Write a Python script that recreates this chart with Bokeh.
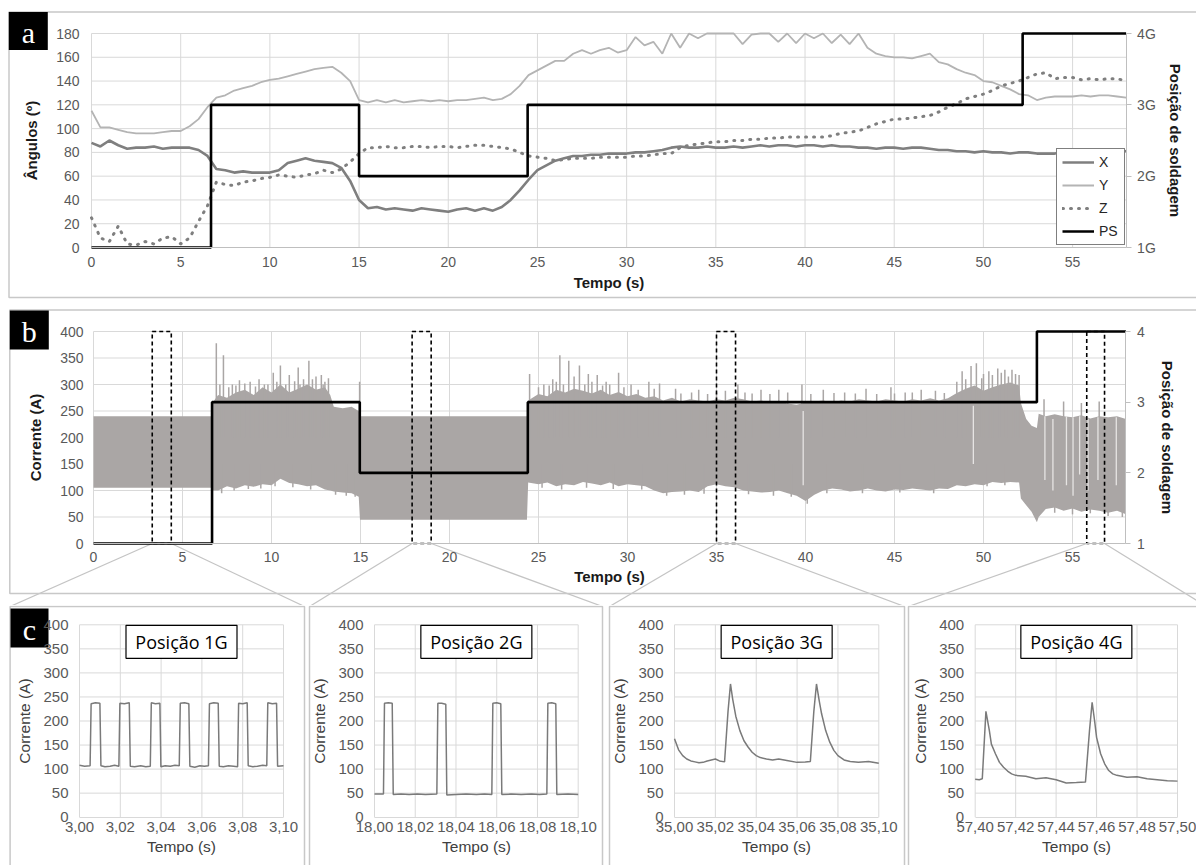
import numpy as np
from bokeh.plotting import figure
from bokeh.models import (Range1d, LinearAxis, FixedTicker, CustomJSTickFormatter,
                          Legend, LegendItem)
from bokeh.layouts import column, row
from bokeh.embed import file_html
from bokeh.resources import INLINE
from bokeh.core.properties import value

# ======================= DATA =======================
# ---- panel a : angles (deg) sampled every 0.5 s, 0..58 s
t_a = np.arange(0, 58.01, 0.5)
ang_x = [88, 85, 90, 86, 83, 84, 84, 85, 83, 84,
         84, 84, 82, 77, 66, 65, 63, 64, 63, 63,
         63, 65, 71, 73, 75, 73, 72, 71, 67, 56,
         40, 33, 34, 32, 33, 32, 31, 33, 32, 31,
         30, 32, 33, 31, 33, 31, 34, 40, 48, 57,
         65, 69, 73, 75, 77, 77, 78, 78, 79, 79,
         79, 80, 80, 81, 82, 84, 85, 84, 84, 85,
         84, 84, 85, 84, 85, 86, 85, 86, 86, 85,
         86, 86, 85, 86, 85, 85, 84, 84, 83, 84,
         84, 83, 84, 84, 83, 82, 82, 81, 81, 80,
         81, 80, 80, 79, 80, 80, 79, 79, 79, 80,
         79, 80, 81, 81, 81, 82, 81]
ang_y = [115, 101, 101, 99, 97, 96, 96, 96, 97, 98,
         98, 102, 108, 118, 126, 128, 132, 134, 136, 139,
         141, 142, 144, 146, 148, 150, 151, 152, 147, 140,
         124, 122, 124, 122, 124, 122, 123, 124, 123, 124,
         123, 124, 124, 125, 126, 124, 125, 129, 136, 145,
         149, 153, 157, 157, 163, 166, 163, 166, 168, 164,
         166, 177, 170, 173, 163, 180, 168, 180, 176, 180,
         180, 180, 180, 171, 179, 180, 180, 173, 180, 172,
         180, 176, 180, 172, 179, 171, 180, 168, 163, 161,
         160, 160, 159, 161, 163, 156, 154, 150, 147, 145,
         140, 139, 136, 133, 129, 128, 124, 126, 127, 127,
         127, 128, 127, 128, 128, 127, 126]
ang_z = [25, 8, 5, 18, 3, 2, 5, 3, 8, 9,
         3, 8, 22, 35, 55, 53, 52, 55, 56, 58,
         59, 61, 60, 59, 61, 62, 65, 63, 66, 72,
         79, 84, 84, 85, 84, 84, 85, 85, 84, 85,
         85, 84, 85, 86, 86, 85, 84, 83, 80, 77,
         76, 75, 73, 74, 75, 75, 75, 76, 76, 76,
         76, 77, 77, 78, 79, 79, 84, 86, 87, 88,
         89, 89, 90, 90, 91, 91, 92, 92, 93, 93,
         93, 93, 93, 94, 96, 97, 98, 101, 104, 106,
         108, 108, 109, 110, 111, 114, 118, 121, 125, 127,
         129, 132, 136, 138, 140, 143, 146, 147, 142, 143,
         143, 141, 142, 141, 142, 142, 140]
ps_a_t = [0, 6.7, 15.0, 24.45, 52.2, 58]
ps_a_v = [1, 3, 2, 3, 4, 4]

time_ticks = [0, 5, 10, 15, 20, 25, 30, 35, 40, 45, 50, 55]
ang_ticks = [0, 20, 40, 60, 80, 100, 120, 140, 160, 180]
pos_ticks = [1, 2, 3, 4]
cur_ticks = [0, 50, 100, 150, 200, 250, 300, 350, 400]

# ---- panel b : current envelope (A)
band_t = [0.0, 6.6, 6.68, 7.0, 7.5, 8.0, 8.5, 9.0, 9.5, 10.0,
          10.5, 11.0, 11.5, 12.0, 12.5, 13.0, 13.3, 13.5, 14.0, 14.5,
          14.9, 14.97, 24.35, 24.42,
          25.0, 25.5, 26.0, 26.5, 27.0, 27.5, 28.0, 28.5, 29.0, 29.5,
          30.0, 30.5, 31.0, 31.5, 32.0, 32.5, 33.0, 33.5, 34.0, 34.5,
          35.0, 35.5, 36.0, 36.5, 37.0, 37.5, 38.0, 38.5, 39.0, 39.5,
          40.0, 40.5, 41.0, 41.5, 42.0, 42.5, 43.0, 43.5, 44.0, 44.5,
          45.0, 45.5, 46.0, 46.5, 47.0, 47.5, 48.0, 48.5, 49.0, 49.5,
          50.0, 50.5, 51.0, 51.5, 52.0,
          52.1, 52.4, 52.7, 53.0, 53.1,
          53.5, 54.0, 54.5, 55.0, 55.5, 56.0, 56.5, 57.0, 57.5, 58.0]
band_lo = [105, 105, 100, 100, 108, 104, 110, 107, 112, 110,
           122, 114, 112, 108, 110, 102, 100, 98, 96, 95,
           88, 45, 45, 115,
           112, 115, 108, 112, 110, 116, 113, 110, 115, 108,
           112, 110, 108, 100, 95, 97, 98, 100, 97, 108,
           112, 108, 106, 100, 98, 96, 97, 100, 95, 90,
           80, 92, 100, 104, 102, 98, 100, 104, 100, 98,
           102, 101, 104, 102, 100, 104, 103, 110, 108, 112,
           110, 116, 114, 116, 115,
           85, 72, 60, 40, 50,
           65, 68, 62, 66, 60, 64, 62, 58, 62, 55]
band_hi = [240, 240, 265, 280, 275, 285, 290, 280, 295, 285,
           300, 285, 292, 300, 290, 295, 280, 258, 255, 258,
           250, 240, 240, 270,
           282, 278, 290, 285, 292, 288, 283, 290, 280, 286,
           278, 282, 275, 278, 270, 275, 268, 272, 270, 268,
           272, 270, 275, 272, 268, 270, 266, 268, 264, 262,
           266, 268, 270, 266, 270, 268, 272, 270, 268, 272,
           270, 268, 272, 270, 274, 270, 274, 284, 292, 298,
           288, 295, 300, 304, 298,
           265, 235, 222, 218, 245,
           240, 244, 240, 238, 242, 236, 240, 238, 240, 235]
spike_t = [6.9, 7.1, 7.3, 7.6, 7.8, 8.0, 8.2, 8.5, 8.8, 9.1, 9.3, 9.6, 9.8, 10.1, 10.3,
           10.5, 10.8, 11.0, 11.3, 11.5, 11.6, 11.8, 12.1, 12.3, 12.5, 12.8, 12.9, 13.0, 13.2,
           14.95,
           24.5, 25.0, 25.3, 25.6, 25.8, 26.0, 26.2, 26.4, 26.7, 27.0, 27.3, 27.6, 27.8, 28.0,
           28.3, 28.6, 28.8, 29.0, 29.5, 29.8, 30.2, 30.6, 31.2, 31.5, 31.8, 32.7, 33.0,
           33.6, 34.0, 34.5, 35.0, 35.5, 36.2, 36.6, 37.0, 37.5, 38.0, 38.5, 39.0, 39.8,
           40.3, 41.0, 41.6, 42.2, 42.8, 43.4, 44.0, 44.8, 45.0, 45.6, 46.0, 46.5, 47.3,
           47.8, 48.5, 48.8, 49.0, 49.3, 49.6, 49.9, 50.0, 50.3, 50.5, 50.8, 51.0, 51.2,
           51.4, 51.6, 51.8, 52.0,
           53.4, 54.5, 55.5, 56.5]
spike_v = [378, 300, 355, 295, 300, 298, 308, 302, 305, 296, 310, 300, 300, 322, 305,
           336, 300, 318, 306, 332, 300, 310, 345, 310, 315, 318, 300, 305, 312,
           305,
           320, 295, 300, 298, 310, 305, 355, 300, 345, 315, 336, 300, 320, 305,
           318, 298, 305, 300, 322, 295, 300, 290, 305, 292, 302, 292, 283,
           285, 290, 282, 285, 288, 300, 285, 283, 290, 282, 290, 285, 300,
           282, 290, 284, 285, 283, 292, 282, 295, 283, 285, 285, 290, 288,
           284, 305, 325, 310, 335, 340, 312, 320, 325, 318, 330, 322, 328,
           315, 328, 320, 318,
           272, 268, 265, 268]
dip_t = [7.2, 7.9, 8.7, 9.4, 10.2, 11.2, 12.2, 13.6, 14.2, 14.7,
         25.2, 26.3, 27.7, 29.2, 30.8, 32.2, 33.2, 34.3, 36.8, 38.2, 39.2, 40.1,
         41.2, 43.2, 45.3, 47.2, 50.2, 51.2, 54.0, 55.0, 56.0, 57.0, 57.8]
dip_v = [95, 100, 103, 104, 108, 106, 102, 92, 90, 88,
         105, 102, 105, 103, 102, 90, 92, 94, 93, 90, 88, 75,
         95, 95, 96, 95, 108, 110, 58, 55, 57, 52, 50]
gap_t = [39.87, 49.43, 53.45, 53.9, 54.66, 55.03, 55.4, 55.87, 56.43, 57.46]
gap_lo = [110, 150, 120, 100, 110, 90, 130, 100, 120, 110]
gap_hi = [250, 260, 240, 235, 240, 238, 240, 236, 238, 238]
ps_b_t = [0, 6.66, 14.96, 24.4, 53.0, 58]
ps_b_v = [1, 3, 2, 3, 4, 4]
zoom_left = [3.3, 17.9, 35.0, 55.8]
zoom_right = [4.37, 18.97, 36.07, 56.8]

# ---- panel c : zoomed current traces
c1_t = [3.0000, 3.0025, 3.0052, 3.0057, 3.0078, 3.0100, 3.0105, 3.0125, 3.0150, 3.0172,
        3.0193, 3.0198, 3.0220, 3.0244, 3.0249, 3.0270, 3.0300, 3.0325, 3.0347, 3.0352,
        3.0372, 3.0394, 3.0399, 3.0420, 3.0445, 3.0468, 3.0489, 3.0494, 3.0515, 3.0536,
        3.0541, 3.0565, 3.0590, 3.0612, 3.0632, 3.0637, 3.0658, 3.0680, 3.0685, 3.0705,
        3.0730, 3.0755, 3.0775, 3.0780, 3.0800, 3.0822, 3.0827, 3.0850, 3.0872, 3.0898,
        3.0918, 3.0923, 3.0945, 3.0966, 3.0971, 3.1000]
c1_i = [108, 106, 107, 236, 238, 237, 107, 105, 106, 108,
        106, 237, 236, 238, 106, 105, 107, 105, 106, 238,
        236, 237, 105, 107, 106, 108, 107, 237, 238, 236,
        106, 104, 107, 106, 107, 236, 238, 237, 106, 105,
        107, 106, 105, 237, 236, 238, 107, 105, 106, 108,
        107, 238, 236, 237, 106, 107]
c2_t = [18.0000, 18.0044, 18.0049, 18.0068, 18.0087, 18.0092, 18.0130, 18.0170, 18.0210, 18.0250,
        18.0306, 18.0311, 18.0330, 18.0350, 18.0355, 18.0400, 18.0450, 18.0500, 18.0540, 18.0576,
        18.0581, 18.0600, 18.0620, 18.0625, 18.0670, 18.0720, 18.0770, 18.0810, 18.0846, 18.0851,
        18.0870, 18.0890, 18.0895, 18.0950, 18.1000]
c2_i = [48, 48, 237, 238, 237, 47, 48, 47, 48, 47,
        48, 237, 237, 235, 46, 47, 48, 47, 48, 47,
        237, 238, 236, 47, 48, 47, 48, 47, 48, 237,
        238, 236, 47, 48, 47]
c3_t = [35.000, 35.002, 35.004, 35.006, 35.008, 35.010, 35.012, 35.014, 35.016, 35.018,
        35.020, 35.022, 35.0245, 35.0262, 35.0274, 35.0285, 35.0300, 35.0320, 35.0340, 35.0360,
        35.0380, 35.0400, 35.0420, 35.0450, 35.0480, 35.0510, 35.0550, 35.0600, 35.0640, 35.0665,
        35.0682, 35.0695, 35.0708, 35.0720, 35.0740, 35.0760, 35.0780, 35.0800, 35.0830, 35.0860,
        35.0900, 35.0950, 35.1000]
c3_i = [163, 140, 128, 121, 117, 115, 113, 114, 117, 119,
        121, 117, 115, 220, 277, 245, 210, 180, 159, 146,
        135, 128, 124, 121, 119, 121, 118, 114, 115, 116,
        220, 277, 243, 215, 180, 156, 139, 128, 119, 116,
        114, 116, 112]
c4_t = [57.400, 57.402, 57.4035, 57.4053, 57.407, 57.408, 57.410, 57.412, 57.414, 57.416,
        57.418, 57.420, 57.425, 57.430, 57.435, 57.440, 57.445, 57.450, 57.4545, 57.4565,
        57.4578, 57.459, 57.460, 57.462, 57.464, 57.466, 57.468, 57.470, 57.475, 57.480,
        57.485, 57.490, 57.495, 57.500]
c4_i = [79, 78, 80, 220, 180, 152, 132, 114, 104, 96,
        90, 87, 85, 80, 82, 78, 71, 72, 73, 180,
        239, 201, 166, 132, 111, 97, 90, 87, 83, 84,
        80, 78, 76, 75]
c1_ticks = [3.00, 3.02, 3.04, 3.06, 3.08, 3.10]
c2_ticks = [18.00, 18.02, 18.04, 18.06, 18.08, 18.10]
c3_ticks = [35.00, 35.02, 35.04, 35.06, 35.08, 35.10]
c4_ticks = [57.40, 57.42, 57.44, 57.46, 57.48, 57.50]
c_titles = ["Posição 1G", "Posição 2G", "Posição 3G", "Posição 4G"]

# ======================= LAYOUT / STYLE =======================
W = 1196
HA, HB, HC = 300, 305, 260
C_X0 = [0, 306, 606, 906]
C_W = [306, 300, 300, 290]
FONT = "Liberation Sans"
GRID = "#d9d9d9"
AXL = "#bfbfbf"
FRAME = "#c8c8c8"
TICKC = "#595959"


def lin(p0, v0, p1, v1):
    k = (v1 - v0) / (p1 - p0)
    return lambda px: v0 + (px - p0) * k


def make_fig(w, h, xr, yr):
    p = figure(width=w, height=h, x_range=Range1d(*xr), y_range=Range1d(*yr),
               output_backend="svg", toolbar_location=None,
               min_border_left=0, min_border_right=0, min_border_top=0, min_border_bottom=0)
    p.outline_line_color = None
    p.xgrid.visible = False
    p.ygrid.visible = False
    p.background_fill_color = "white"
    p.border_fill_color = "white"
    return p


def style_axis(ax, ticks, bounds, loc, label, tick_size, lab_size, bold, tick_standoff,
               lab_standoff, line_color=None, tick_out=0, lab_color="#1a1a1a"):
    ax.ticker = FixedTicker(ticks=ticks)
    ax.bounds = bounds
    ax.fixed_location = loc
    ax.axis_label = label
    ax.axis_label_text_font = FONT
    ax.axis_label_text_font_size = lab_size
    ax.axis_label_text_font_style = "bold" if bold else "normal"
    ax.axis_label_text_color = lab_color
    ax.axis_label_standoff = lab_standoff
    ax.major_label_text_font = FONT
    ax.major_label_text_font_size = tick_size
    ax.major_label_text_color = TICKC
    ax.major_label_standoff = tick_standoff
    ax.axis_line_color = line_color
    ax.major_tick_line_color = line_color if tick_out else None
    ax.major_tick_out = tick_out
    ax.major_tick_in = 0
    ax.minor_tick_line_color = None


def draw_grid(p, xt, yt, xb, yb):
    p.multi_line(xs=[[x, x] for x in xt], ys=[list(yb) for _ in xt], line_color=GRID, line_width=1)
    p.multi_line(xs=[list(xb) for _ in yt], ys=[[y, y] for y in yt], line_color=GRID, line_width=1)


def tag(p, fx, fy, cx, cy, w, h, letter):
    p.rect(x=[fx(cx)], y=[fy(cy)], width=w, height=h, width_units="screen",
           height_units="screen", fill_color="black", line_color=None)
    p.text(x=[fx(cx)], y=[fy(cy + 1)], text=[letter], text_font=value("Liberation Serif"),
           text_font_size="30px", text_color="white", text_align="center",
           text_baseline="middle")


# ======================= PANEL A =======================
fxa = lin(91.0, 0.0, 1125.6, 58.0)
fya = lin(247.0, 0.0, 33.0, 180.0)
fpa = lin(247.0, 1.0, 33.0, 4.0)
pa = make_fig(W, HA, (fxa(0), fxa(W)), (fya(HA), fya(0)))
pa.extra_y_ranges = {"pos": Range1d(fpa(HA), fpa(0))}

pa.line(x=[fxa(W + 5), fxa(8.5), fxa(8.5), fxa(W + 5)], y=[fya(11.5), fya(11.5), fya(297), fya(297)],
        line_color=FRAME, line_width=1.5)
draw_grid(pa, time_ticks, ang_ticks[1:], (0, 58), (0, 180))

r_y = pa.line(t_a, ang_y, line_color="#b4b4b4", line_width=1.8)
r_x = pa.line(t_a, ang_x, line_color="#7f7f7f", line_width=2.6)
r_z = pa.line(t_a, ang_z, line_color="#7f7f7f", line_width=3, line_dash="1 7", line_cap="round")
r_ps = pa.step(ps_a_t, ps_a_v, mode="after", line_color="black", line_width=2.6, y_range_name="pos")

style_axis(pa.xaxis[0], time_ticks, (0, 58), 0, "Tempo (s)", "14px", "15px", True, 9, 4,
           line_color=AXL)
style_axis(pa.yaxis[0], ang_ticks, (0, 180), 0, "Ângulos (º)", "14px", "15px", True, 12, 13)
ra = LinearAxis(y_range_name="pos")
pa.add_layout(ra, "right")
style_axis(ra, pos_ticks, (1, 4), 58, "Posição de soldagem", "14px", "15px", True, 6, 8,
           line_color=AXL, tick_out=5)
ra.formatter = CustomJSTickFormatter(code="return Math.round(tick) + 'G';")

leg = Legend(items=[LegendItem(label="X", renderers=[r_x]), LegendItem(label="Y", renderers=[r_y]),
                    LegendItem(label="Z", renderers=[r_z]), LegendItem(label="PS", renderers=[r_ps])],
             location=(1056, 55), orientation="vertical")
leg.border_line_color = "black"
leg.border_line_width = 1
leg.background_fill_color = "white"
leg.background_fill_alpha = 1
leg.label_text_font = FONT
leg.label_text_font_size = "14px"
leg.label_text_color = "#262626"
leg.glyph_width = 32
leg.glyph_height = 16
leg.label_height = 16
leg.label_standoff = 5
leg.spacing = 7
leg.padding = 5
leg.margin = 0
pa.add_layout(leg)
tag(pa, fxa, fya, 27.8, 30.5, 39, 38, "a")

# ======================= PANEL B =======================
fxb = lin(93.0, 0.0, 1072.0, 55.0)
fyb = lin(243.0, 0.0, 31.0, 400.0)
fpb = lin(243.0, 1.0, 31.0, 4.0)
pb = make_fig(W, HB, (fxb(0), fxb(W)), (fyb(HB), fyb(0)))
pb.extra_y_ranges = {"pos": Range1d(fpb(HB), fpb(0))}

# connectors from zoom boxes to the panels of c
C_BORDER = [(9.6, 304.0), (3.0, 296.0), (3.0, 298.0), (2.0, 300.0)]
con_x, con_y = [], []
for i in range(4):
    gl = C_X0[i] + C_BORDER[i][0]
    gr = C_X0[i] + C_BORDER[i][1]
    con_x += [[zoom_left[i], fxb(gl)], [zoom_right[i], fxb(gr)]]
    con_y += [[0, fyb(HB + 1)], [0, fyb(HB + 1)]]
pb.multi_line(xs=con_x, ys=con_y, line_color="#c4c4c4", line_width=1.2)

pb.line(x=[fxb(W + 5), fxb(9.3), fxb(9.3), fxb(W + 5)], y=[fyb(9.5), fyb(9.5), fyb(293), fyb(293)],
        line_color=FRAME, line_width=1.5)
draw_grid(pb, time_ticks, cur_ticks[1:], (0, 58), (0, 400))

GRAYB = "#aaa6a5"
pb.varea(x=band_t, y1=band_lo, y2=band_hi, fill_color=GRAYB)
pb.segment(x0=spike_t, y0=[200] * len(spike_t), x1=spike_t, y1=spike_v, line_color=GRAYB,
           line_width=1.5)
pb.segment(x0=dip_t, y0=[150] * len(dip_t), x1=dip_t, y1=dip_v, line_color=GRAYB,
           line_width=1.5)
pb.segment(x0=gap_t, y0=gap_lo, x1=gap_t, y1=gap_hi, line_color="#e6e4e3", line_width=1.3)
pb.step(ps_b_t, ps_b_v, mode="after", line_color="black", line_width=2.6, y_range_name="pos")
pb.quad(left=zoom_left, right=zoom_right, bottom=[0] * 4, top=[400] * 4, fill_color=None,
        line_color="black", line_width=1.6, line_dash="4 3")

style_axis(pb.xaxis[0], time_ticks, (0, 58), 0, "Tempo (s)", "14px", "15px", True, 8, 3,
           line_color=AXL)
style_axis(pb.yaxis[0], cur_ticks, (0, 400), 0, "Corrente (A)", "14px", "15px", True, 10, 13)
rb = LinearAxis(y_range_name="pos")
pb.add_layout(rb, "right")
style_axis(rb, pos_ticks, (1, 4), 58, "Posição de soldagem", "14px", "15px", True, 6, 12,
           line_color=AXL, tick_out=5)
tag(pb, fxb, fyb, 28.8, 29.5, 39, 39, "b")

# ======================= PANEL C =======================
c_data = [(c1_t, c1_i, c1_ticks, (79.0, 283.0)),
          (c2_t, c2_i, c2_ticks, (68.0, 271.7)),
          (c3_t, c3_i, c3_ticks, (68.0, 272.3)),
          (c4_t, c4_i, c4_ticks, (68.7, 271.0))]
c_figs = []
for i, (ct, ci, ticks, (px0, px1)) in enumerate(c_data):
    x0, x1 = ticks[0], ticks[-1]
    fx = lin(px0, x0, px1, x1)
    fy = lin(211.7, 0.0, 19.3, 400.0)
    w = C_W[i]
    p = make_fig(w, HC, (fx(0), fx(w)), (fy(HC), fy(0)))
    bl, br = C_BORDER[i]
    p.line(x=[fx(bl), fx(bl), fx(br), fx(br)], y=[fy(HC + 5), fy(1), fy(1), fy(HC + 5)],
           line_color=FRAME, line_width=1.5)
    draw_grid(p, ticks, cur_ticks[1:], (x0, x1), (0, 400))
    p.line(ct, ci, line_color="#7a7a7a", line_width=1.5)
    style_axis(p.xaxis[0], ticks, (x0, x1), 0, "Tempo (s)", "15px", "15.5px", False, 5, 2,
               line_color=GRID, lab_color="#404040")
    p.xaxis[0].formatter = CustomJSTickFormatter(code="return tick.toFixed(2).replace('.', ',');")
    style_axis(p.yaxis[0], cur_ticks, (0, 400), x0, "Corrente (A)", "15px", "15.5px", False, 11, 7,
               lab_color="#404040")
    cx = (x0 + x1) / 2
    p.rect(x=[cx], y=[fy(19.3 + 17)], width=111, height=33, width_units="screen",
           height_units="screen", fill_color="white", line_color="black", line_width=1.2)
    p.text(x=[cx], y=[fy(19.3 + 17)], text=[c_titles[i]], text_font=value("Open Sans"),
           text_font_size="18px", text_color="black", text_align="center",
           text_baseline="middle")
    if i == 0:
        tag(p, fx, fy, 29.0, 22.5, 38, 39, "c")
    c_figs.append(p)

layout = column(pa, pb, row(*c_figs, spacing=0), spacing=0)
open("out.html", "w").write(file_html(layout, INLINE))
